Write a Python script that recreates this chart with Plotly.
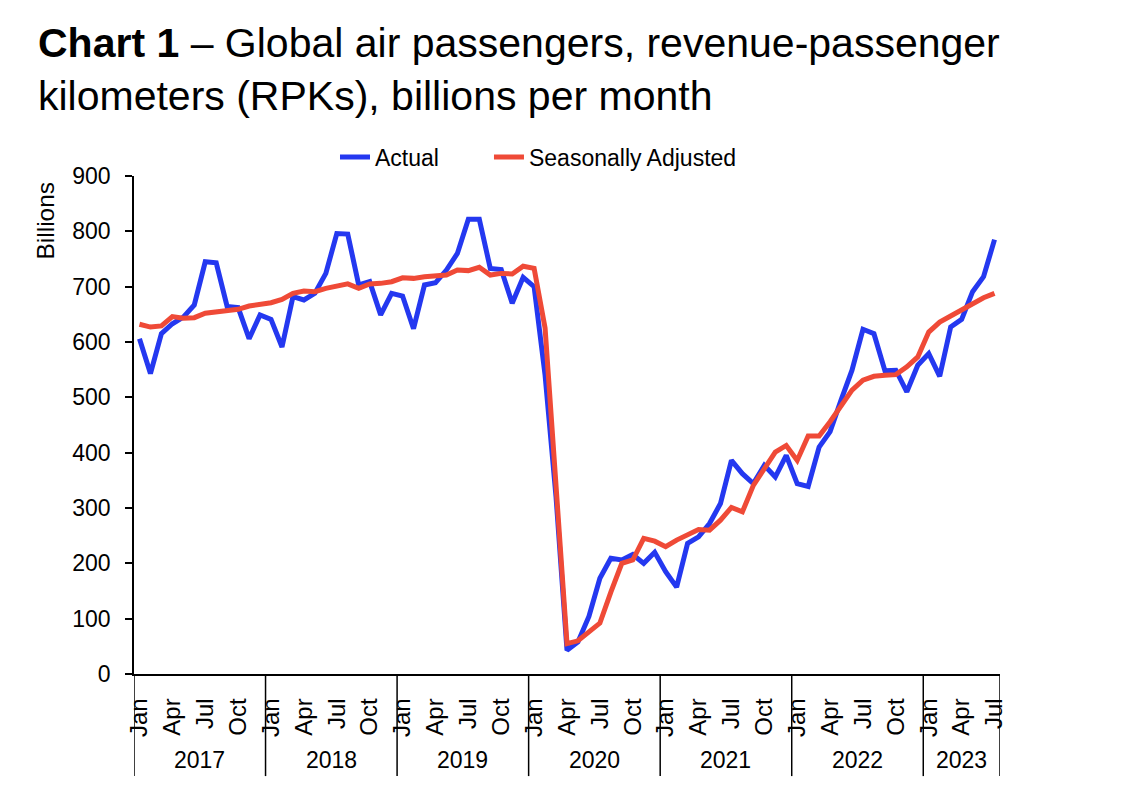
import plotly.graph_objects as go

years = ["2017", "2018", "2019", "2020", "2021", "2022", "2023"]
month_names = ["Jan", "Feb", "Mar", "Apr", "May", "Jun", "Jul", "Aug", "Sep", "Oct", "Nov", "Dec"]
months_in_year = [12, 12, 12, 12, 12, 12, 7]
shown_months = ["Jan", "Apr", "Jul", "Oct"]

actual = [
    606, 543, 615, 633, 645, 667, 745, 743, 664, 662, 606, 649,   # 2017
    641, 591, 682, 676, 688, 724, 796, 795, 703, 709, 649, 688,   # 2018
    683, 624, 703, 707, 730, 760, 822, 822, 733, 731, 670, 717,   # 2019
    700, 540, 320, 43, 58, 104, 173, 209, 206, 216, 200, 220,     # 2020
    185, 157, 236, 248, 272, 308, 386, 362, 344, 377, 356, 395,   # 2021
    344, 339, 410, 438, 495, 549, 623, 615, 548, 549, 510, 558,   # 2022
    579, 538, 627, 641, 691, 718, 785,                            # 2023
]
seasonally_adjusted = [
    632, 627, 629, 646, 643, 644, 652, 655, 656, 659, 665, 668,   # 2017
    671, 677, 688, 692, 691, 697, 701, 705, 697, 705, 706, 709,   # 2018
    716, 715, 718, 719, 721, 730, 729, 735, 721, 724, 723, 737,   # 2019
    733, 625, 340, 55, 60, 77, 92, 148, 200, 206, 245, 240,       # 2020
    230, 242, 251, 261, 260, 278, 301, 293, 341, 371, 401, 413,   # 2021
    386, 430, 430, 456, 486, 513, 531, 538, 540, 541, 555, 573,   # 2022
    618, 636, 647, 658, 671, 680, 688,                            # 2023
]

# Build category sequence
cat_year = []
cat_month = []
for y, n in zip(years, months_in_year):
    for m in month_names[:n]:
        cat_year.append(y)
        cat_month.append(m)
idx = list(range(len(cat_month)))

FONT = "Arial, Liberation Sans, sans-serif"
BLUE = "#2438F0"
RED = "#EF4A37"

fig = go.Figure()
fig.add_trace(go.Scatter(x=idx, y=actual, mode="lines", name="Actual",
                         line=dict(color=BLUE, width=5), legend="legend", showlegend=True))
fig.add_trace(go.Scatter(x=idx, y=seasonally_adjusted, mode="lines", name="Seasonally Adjusted",
                         line=dict(color=RED, width=5), legend="legend2", showlegend=True))

tickvals = [i for i, m in zip(idx, cat_month) if m in shown_months]
ticktext = [cat_month[i] for i in tickvals]

# year group boundaries and centres
shapes = []
annotations = []
start = 0
for y, n in zip(years, months_in_year):
    left = start - 0.5
    right = start + n - 0.5
    shapes.append(dict(type="line", xref="x", yref="paper", x0=left, x1=left,
                       y0=0, y1=-0.205, line=dict(color="black", width=1.5)))
    annotations.append(dict(text=y, xref="x", yref="paper", x=(left + right) / 2,
                            y=-0.173, yanchor="middle", xanchor="center",
                            showarrow=False, font=dict(family=FONT, size=23, color="black")))
    start += n
shapes.append(dict(type="line", xref="x", yref="paper", x0=start - 0.5, x1=start - 0.5,
                   y0=0, y1=-0.205, line=dict(color="black", width=1.5)))

annotations.append(dict(text="Billions", xref="paper", yref="paper", x=0, y=1,
                        xanchor="right", yanchor="top", xshift=-74, yshift=-4,
                        textangle=-90, showarrow=False,
                        font=dict(family=FONT, size=24.5, color="black")))

# Title (two lines)
annotations.append(dict(text="<b>Chart 1</b> – Global air passengers, revenue-passenger<br>"
                             "kilometers (RPKs), billions per month",
                        xref="paper", yref="paper", x=-0.1132, y=1.317,
                        xanchor="left", yanchor="top", align="left", showarrow=False,
                        font=dict(family=FONT, size=41, color="black")))

legend_common = dict(orientation="h", y=1.038, yanchor="middle", xanchor="left",
                     font=dict(family=FONT, size=23, color="black"),
                     bgcolor="rgba(0,0,0,0)", visible=True)

fig.update_layout(
    width=1125, height=787,
    showlegend=True,
    paper_bgcolor="white", plot_bgcolor="white",
    margin=dict(l=126, r=133, t=168, b=121),
    legend=dict(x=0.2321, **legend_common),
    legend2=dict(x=0.4099, **legend_common),
    xaxis=dict(range=[-0.5, len(idx) - 0.5], tickvals=tickvals, ticktext=ticktext,
               tickangle=-90, ticks="", showgrid=False, zeroline=False,
               showline=True, linecolor="black", linewidth=1.5,
               ticklabelstandoff=13,
               tickfont=dict(family=FONT, size=24, color="black")),
    yaxis=dict(range=[0, 900], dtick=100, tick0=0, ticks="outside", ticklen=7,
               tickcolor="black", tickwidth=1.5, showgrid=False, zeroline=False,
               showline=True, linecolor="black", linewidth=1.5,
               ticklabelstandoff=10,
               tickfont=dict(family=FONT, size=23, color="black")),
    shapes=shapes,
    annotations=annotations,
)

fig.write_html("out.html")
